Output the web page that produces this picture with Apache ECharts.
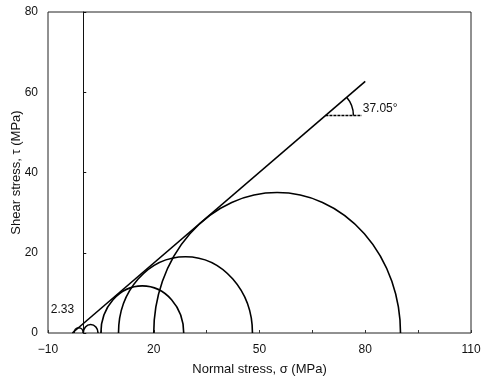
<!DOCTYPE html>
<html>
<head>
<meta charset="utf-8">
<script src="https://cdn.jsdelivr.net/npm/echarts@6/dist/echarts.min.js"></script>
<style>html,body{margin:0;padding:0;background:#fff}#c{width:486px;height:376px}</style>
</head>
<body>
<div id="c"></div>
<script>
// Mohr circles: minor (sigma3) and major (sigma1) principal stresses, MPa
const sigma3 = [-2.6, 0, 5, 10, 20];
const sigma1 = [0, 4.2, 28.5, 48, 90];
// Failure envelope end points [sigma, tau]
const envelope = [[-3.1, 0], [80, 62.7]];
// Angle annotation: vertex of the angle on the envelope, end of horizontal reference
const angleVertex = [68.7, 54.2];
const angleRefEnd = [79, 54.2];
const angleText = '37.05°';
// Cohesion label
const cohesionText = '2.33';
const cohesionPos = [-9.2, 5.7];
// Axis ticks
const xMin = -10, xMax = 110, xTick = 15, xLabelStep = 30;
const yMin = 0, yMax = 80, yTick = 20;

const circleData = sigma3.map((s, i) => [s, sigma1[i]]);
const FONT = 'Liberation Sans, Arial, sans-serif';

const chart = echarts.init(document.getElementById('c'), null, {renderer: 'canvas'});
chart.setOption({
  animation: false,
  backgroundColor: '#fff',
  grid: {left: 48, right: 15, top: 12, bottom: 43, containLabel: false, outerBoundsMode: 'none',
    show: true, borderColor: '#222', borderWidth: 1, backgroundColor: 'transparent'},
  xAxis: {
    type: 'value', min: xMin, max: xMax, interval: xTick,
    name: 'Normal stress, σ (MPa)', nameLocation: 'middle', nameGap: 30,
    nameTextStyle: {fontFamily: FONT, fontSize: 13, color: '#111'},
    axisLine: {show: false, onZero: false},
    axisTick: {show: true, inside: true, length: 3, lineStyle: {color: '#333'}},
    splitLine: {show: false},
    axisLabel: {fontFamily: FONT, fontSize: 12, color: '#111', margin: 11,
      formatter: v => (Math.round(v - xMin) % xLabelStep === 0 ? String(v).replace('-', '\u2212') : '')}
  },
  yAxis: [{
    type: 'value', min: yMin, max: yMax, interval: yTick, position: 'left',
    name: 'Shear stress, τ (MPa)', nameLocation: 'middle', nameGap: 25, nameMoveOverlap: false,
    nameTextStyle: {fontFamily: FONT, fontSize: 13, color: '#111'},
    axisLine: {show: false, onZero: false},
    axisTick: {show: false},
    splitLine: {show: false},
    axisLabel: {fontFamily: FONT, fontSize: 12, color: '#111', margin: 10}
  }, {
    type: 'value', min: yMin, max: yMax, interval: yTick, position: 'left',
    axisLine: {show: true, onZero: true, lineStyle: {color: '#111', width: 1}},
    axisTick: {show: true, inside: true, length: 3, lineStyle: {color: '#111'}},
    axisLabel: {show: false},
    splitLine: {show: false}
  }],
  series: [{
    type: 'custom',
    clip: true,
    data: circleData,
    renderItem: (params, api) => {
      const s3 = api.value(0), s1 = api.value(1);
      const r = (s1 - s3) / 2;
      const c = api.coord([(s1 + s3) / 2, 0]);
      const sz = api.size([r, r]);
      const rx = sz[0], ry = sz[1];
      return {
        type: 'path',
        shape: {pathData: `M ${c[0] - rx} ${c[1]} A ${rx} ${ry} 0 0 1 ${c[0] + rx} ${c[1]}`},
        style: {fill: 'none', stroke: '#000', lineWidth: 1.6}
      };
    }
  }, {
    type: 'line',
    data: envelope,
    symbol: 'none',
    lineStyle: {color: '#000', width: 1.6},
    yAxisIndex: 0
  }, {
    type: 'custom',
    data: [[0]],
    renderItem: (params, api) => {
      const v = api.coord(angleVertex);
      const e = api.coord(angleRefEnd);
      const p0 = api.coord(envelope[0]);
      const p1 = api.coord(envelope[1]);
      const th = Math.atan2(p0[1] - p1[1], p1[0] - p0[0]);
      const cp = api.coord(cohesionPos);
      return {
        type: 'group',
        children: [{
          type: 'line',
          shape: {x1: v[0], y1: v[1], x2: e[0], y2: e[1]},
          style: {stroke: '#000', lineWidth: 1.5, lineDash: [3, 1]}
        }, {
          type: 'arc',
          shape: {cx: v[0], cy: v[1], r: 28, startAngle: -th, endAngle: 0, clockwise: true},
          style: {fill: 'none', stroke: '#000', lineWidth: 1.5}
        }, {
          type: 'text',
          style: {text: angleText, x: e[0] + 1, y: e[1] - 7, fontFamily: FONT, fontSize: 12, fill: '#111', verticalAlign: 'middle', align: 'left'}
        }, {
          type: 'text',
          style: {text: cohesionText, x: cp[0], y: cp[1], fontFamily: FONT, fontSize: 12, fill: '#111', verticalAlign: 'middle', align: 'left'}
        }]
      };
    }
  }]
});
</script>
</body>
</html>
